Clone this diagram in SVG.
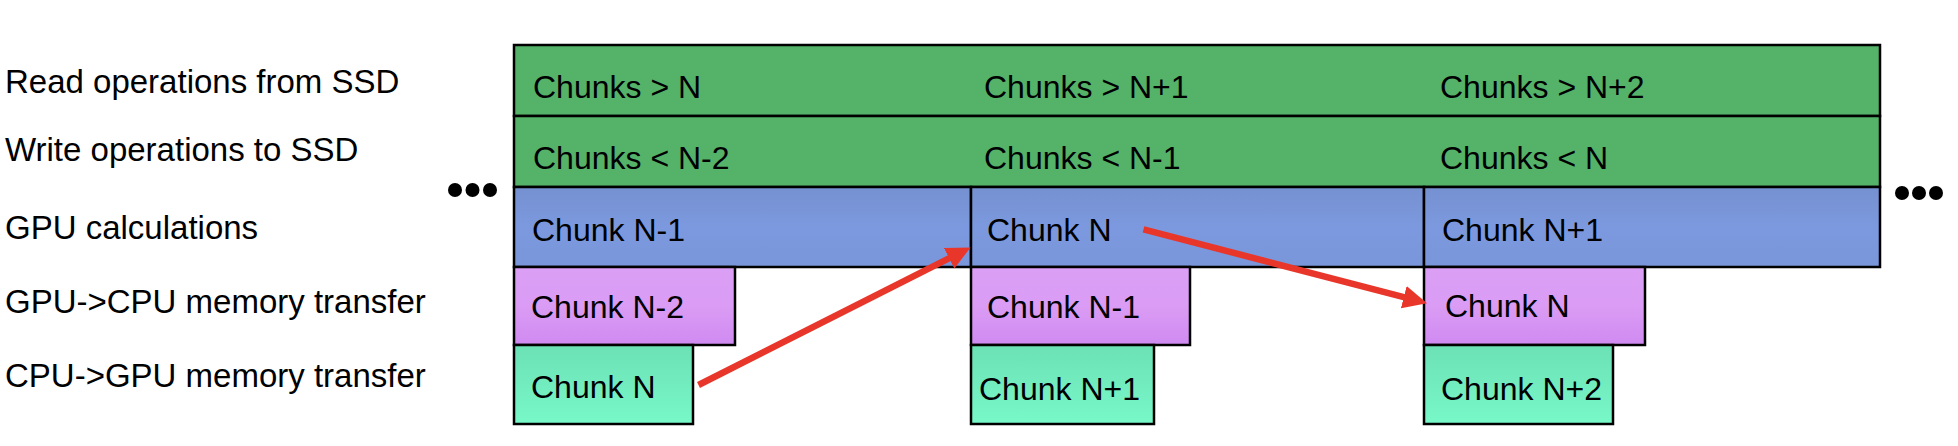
<svg xmlns="http://www.w3.org/2000/svg" width="1958" height="446" viewBox="0 0 1958 446">
<style>
.box{stroke:#000;stroke-width:2.5}
.t{font-family:"Liberation Sans",Arial,sans-serif;font-size:32px;fill:#000}
.lbl{font-family:"Liberation Sans",Arial,sans-serif;font-size:33px;fill:#000}
.arrow{stroke:#E8372A;stroke-width:6.5;fill:none;marker-end:url(#ah)}
</style>
<defs>
<linearGradient id="gBlue" x1="0" y1="0" x2="0" y2="1"><stop offset="0" stop-color="#7691D0"/><stop offset="0.5" stop-color="#7C99DF"/><stop offset="1" stop-color="#7A96DA"/></linearGradient>
<linearGradient id="gPink" x1="0" y1="0" x2="0" y2="1"><stop offset="0" stop-color="#DB9FF6"/><stop offset="0.5" stop-color="#DA9CF4"/><stop offset="1" stop-color="#D08AF1"/></linearGradient>
<linearGradient id="gMint" x1="0" y1="0" x2="0" y2="1"><stop offset="0" stop-color="#6CE1B6"/><stop offset="1" stop-color="#78F8C8"/></linearGradient>
<marker id="ah" markerUnits="userSpaceOnUse" markerWidth="26" markerHeight="24" refX="2" refY="11.5" orient="auto"><path d="M0,0 L24,11.5 L0,23 z" fill="#E8372A"/></marker>
</defs>
<rect width="1958" height="446" fill="#fff"/>
<g id="labels">
<text class="lbl" x="5" y="93">Read operations from SSD</text>
<text class="lbl" x="5" y="161">Write operations to SSD</text>
<text class="lbl" x="5" y="239">GPU calculations</text>
<text class="lbl" x="5" y="313">GPU-&gt;CPU memory transfer</text>
<text class="lbl" x="5" y="387">CPU-&gt;GPU memory transfer</text>
</g>
<g id="dots-left" fill="#000"><circle cx="455" cy="190" r="7"/><circle cx="472.5" cy="190" r="7"/><circle cx="490" cy="190" r="7"/></g>
<g id="dots-right" fill="#000"><circle cx="1902" cy="193" r="7"/><circle cx="1919" cy="193" r="7"/><circle cx="1936" cy="193" r="7"/></g>
<g id="read-row"><rect class="box" x="514" y="45" width="1366" height="71" fill="#55B269"/>
<text class="t" x="533" y="98">Chunks &gt; N</text><text class="t" x="984" y="98">Chunks &gt; N+1</text><text class="t" x="1440" y="98">Chunks &gt; N+2</text></g>
<g id="write-row"><rect class="box" x="514" y="116" width="1366" height="71" fill="#55B269"/>
<text class="t" x="533" y="169">Chunks &lt; N-2</text><text class="t" x="984" y="169">Chunks &lt; N-1</text><text class="t" x="1440" y="169">Chunks &lt; N</text></g>
<g id="gpu-1"><rect class="box" x="514" y="187" width="457" height="80" fill="url(#gBlue)"/><text class="t" x="532" y="241">Chunk N-1</text></g>
<g id="gpu-2"><rect class="box" x="971" y="187" width="453" height="80" fill="url(#gBlue)"/><text class="t" x="987" y="241">Chunk N</text></g>
<g id="gpu-3"><rect class="box" x="1424" y="187" width="456" height="80" fill="url(#gBlue)"/><text class="t" x="1442" y="241">Chunk N+1</text></g>
<g id="g2c-1"><rect class="box" x="514" y="267" width="221" height="78" fill="url(#gPink)"/><text class="t" x="531" y="318">Chunk N-2</text></g>
<g id="g2c-2"><rect class="box" x="971" y="267" width="219" height="78" fill="url(#gPink)"/><text class="t" x="987" y="318">Chunk N-1</text></g>
<g id="g2c-3"><rect class="box" x="1424" y="267" width="221" height="78" fill="url(#gPink)"/><text class="t" x="1445" y="317">Chunk N</text></g>
<g id="c2g-1"><rect class="box" x="514" y="345" width="179" height="79" fill="url(#gMint)"/><text class="t" x="531" y="398">Chunk N</text></g>
<g id="c2g-2"><rect class="box" x="971" y="345" width="183" height="79" fill="url(#gMint)"/><text class="t" x="979" y="400">Chunk N+1</text></g>
<g id="c2g-3"><rect class="box" x="1424" y="345" width="189" height="79" fill="url(#gMint)"/><text class="t" x="1441" y="400">Chunk N+2</text></g>
<g id="connectors">
<line class="arrow" x1="698.5" y1="385" x2="950.9" y2="257.4"/>
<line class="arrow" x1="1143.5" y1="229.3" x2="1405.7" y2="297.7"/>
</g>
</svg>
